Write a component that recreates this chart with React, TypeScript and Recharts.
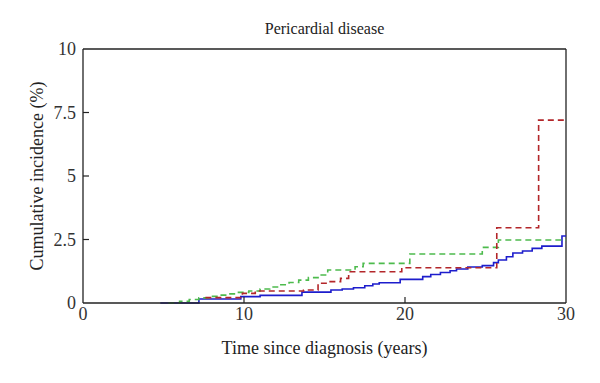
import { LineChart, Line, XAxis, YAxis, ReferenceLine } from 'recharts';

// years since diagnosis and cumulative incidence (%) per group
const blueT = [4.8, 7.2, 9.8, 11, 13.6, 15.4, 16.1, 16.8, 17.5, 18, 18.4, 19.7, 21.1, 21.6, 22.2, 22.8, 23.2, 23.9, 24.8, 25.5, 25.8, 26.3, 26.7, 27.3, 27.9, 28.5, 29.75, 30];
const blueV = [0, 0.16, 0.25, 0.3, 0.43, 0.51, 0.55, 0.6, 0.68, 0.75, 0.8, 0.93, 1.04, 1.12, 1.2, 1.27, 1.34, 1.42, 1.47, 1.59, 1.69, 1.82, 1.97, 2.05, 2.15, 2.24, 2.64, 2.64];

const greenT = [5.3, 6, 6.6, 7.2, 7.8, 8.4, 9, 9.6, 10.3, 11, 11.6, 12.2, 12.8, 13.4, 14, 14.6, 15.2, 16.9, 17.4, 20.3, 24.8, 25.8, 30];
const greenV = [0, 0.07, 0.14, 0.2, 0.26, 0.31, 0.36, 0.42, 0.47, 0.55, 0.63, 0.72, 0.81, 0.9, 1.0, 1.1, 1.3, 1.43, 1.56, 1.93, 2.19, 2.48, 2.48];

const redT = [7.6, 9.9, 10.7, 13.7, 14.6, 15.3, 16, 16.5, 19.8, 25.7, 28.3, 30];
const redV = [0.21, 0.38, 0.47, 0.51, 0.78, 0.84, 0.97, 1.23, 1.39, 2.96, 7.2, 7.2];

const xTicks = [0, 10, 20, 30];
const yTicks = [0, 2.5, 5, 7.5, 10];

const toRows = (t: number[], v: number[]) => t.map((x, i) => ({ t: x, v: v[i] }));
const blueData = toRows(blueT, blueV);
const greenData = toRows(greenT, greenV);
const redData = toRows(redT, redV);

const FONT = '"Liberation Serif", "DejaVu Serif", serif';
const INK = '#222';
const TICK = 7;

function YTick(props: any) {
  const { x, y, payload } = props;
  const v = payload.value;
  const inner = v !== 0 && v !== 10;
  return (
    <g>
      {inner && <line x1={x + TICK} x2={x + TICK + 6} y1={y} y2={y} stroke={INK} strokeWidth={1.2} />}
      <text x={x} y={y} dy="0.35em" textAnchor="end" style={{ fontFamily: FONT, fontSize: 18 }} fill="#333">
        {v}
      </text>
    </g>
  );
}

function XTick(props: any) {
  const { x, y, payload } = props;
  const v = payload.value;
  const inner = v !== 0 && v !== 30;
  return (
    <g>
      {inner && <line x1={x} x2={x} y1={y - TICK} y2={y - TICK - 6} stroke={INK} strokeWidth={1.2} />}
      <text x={x} y={y + 10} textAnchor="middle" style={{ fontFamily: FONT, fontSize: 18 }} fill="#333">
        {v}
      </text>
    </g>
  );
}

export default function App() {
  return (
    <div style={{ position: 'absolute', left: 0, top: 0, width: 600, height: 383, background: '#fff', fontFamily: FONT }}>
      <div style={{ position: 'absolute', left: 83, width: 483, top: 20, textAlign: 'center', fontSize: 16, color: '#222' }}>
        Pericardial disease
      </div>
      <LineChart width={600} height={383} data={blueData} margin={{ top: 49, right: 34, bottom: 0, left: 0 }} style={{ fontFamily: FONT }}>
        <XAxis
          dataKey="t"
          type="number"
          domain={[0, 30]}
          ticks={xTicks}
          allowDataOverflow
          height={80}
          tickSize={TICK}
          tickMargin={0}
          tickLine={false}
          axisLine={{ stroke: INK, strokeWidth: 1.3 }}
          tick={<XTick />}
          interval={0}
        />
        <YAxis
          type="number"
          domain={[0, 10]}
          ticks={yTicks}
          width={83}
          tickSize={TICK}
          tickMargin={0}
          tickLine={false}
          axisLine={{ stroke: INK, strokeWidth: 1.3 }}
          tick={<YTick />}
          interval={0}
        />
        <ReferenceLine y={10} stroke={INK} strokeWidth={1.3} />
        <ReferenceLine x={30} stroke={INK} strokeWidth={1.3} />
        <Line data={blueData} dataKey="v" type="stepAfter" stroke="#1d1dcc" strokeWidth={1.6} dot={false} isAnimationActive={false} />
        <Line data={greenData} dataKey="v" type="stepAfter" stroke="#4dbb4d" strokeWidth={1.6} strokeDasharray="6 4" dot={false} isAnimationActive={false} />
        <Line data={redData} dataKey="v" type="stepAfter" stroke="#b3262a" strokeWidth={1.6} strokeDasharray="6 4" dot={false} isAnimationActive={false} />
      </LineChart>
      <div style={{ position: 'absolute', left: 83, width: 483, top: 338, textAlign: 'center', fontSize: 18, color: '#222' }}>
        Time since diagnosis (years)
      </div>
      <div
        style={{
          position: 'absolute',
          left: 37,
          top: 176,
          transform: 'translate(-50%, -50%) rotate(-90deg)',
          whiteSpace: 'nowrap',
          fontSize: 18,
          color: '#222',
        }}
      >
        Cumulative incidence (%)
      </div>
    </div>
  );
}
